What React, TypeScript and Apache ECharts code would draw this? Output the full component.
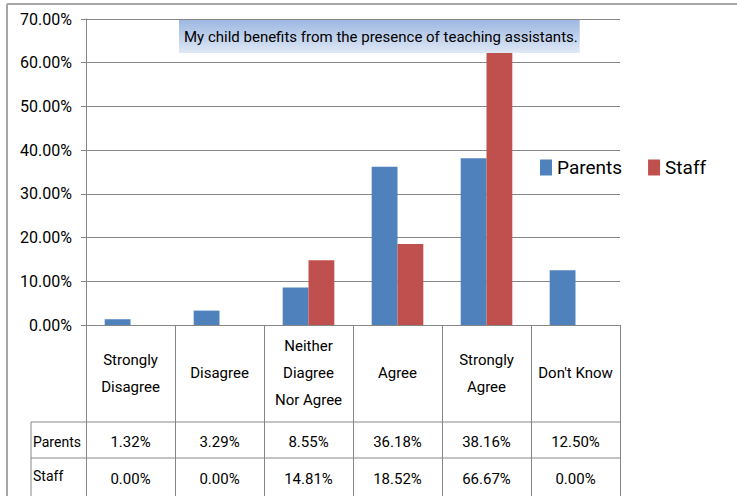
import React, { useEffect, useRef } from "react";
import * as echarts from "echarts";

const categories = [
  "Strongly\nDisagree",
  "Disagree",
  "Neither\nDiagree\nNor Agree",
  "Agree",
  "Strongly\nAgree",
  "Don't Know",
];
const seriesNames = ["Parents", "Staff"];
const parents = [1.32, 3.29, 8.55, 36.18, 38.16, 12.5];
const staff = [0, 0, 14.81, 18.52, 66.67, 0];
const titleText = "My child benefits from the presence of teaching assistants.";
const yMin = 0;
const yMax = 70;
const yInterval = 10;

const FONT = "Roboto, 'Liberation Sans', sans-serif";
const GRID = "#868686";
const fmt = (v: number) => v.toFixed(2) + "%";

export default function App() {
  const ref = useRef<HTMLDivElement>(null);
  useEffect(() => {
    if (!ref.current) return;
    const chart = echarts.init(ref.current, undefined, { renderer: "svg" });
    const gridLeft = 86, gridRight = 620, gridTop = 19, gridBottom = 325;
    const row1 = 422, row2 = 458, tableLeft = 31, H = 496;
    chart.setOption({
      animation: false,
      backgroundColor: "#ffffff",
      textStyle: { fontFamily: FONT },
      title: {
        text: titleText,
        left: 179,
        top: 20,
        padding: [8, 2, 8, 5],
        backgroundColor: new echarts.graphic.LinearGradient(0, 0, 0, 1, [
          { offset: 0, color: "#9db8e2" },
          { offset: 1, color: "#dfe8f5" },
        ]),
        textStyle: { fontFamily: FONT, fontSize: 15, fontWeight: "normal", color: "#000", lineHeight: 17 },
      },
      legend: {
        data: seriesNames,
        left: 535,
        top: 153,
        itemWidth: 12,
        itemHeight: 16,
        itemGap: 26,
        icon: "rect",
        textStyle: { fontFamily: FONT, fontSize: 19, color: "#000" },
      },
      grid: { left: gridLeft, right: 737 - gridRight, top: gridTop, bottom: H - gridBottom, containLabel: false },
      xAxis: [
        {
          type: "category",
          data: categories,
          axisLine: { lineStyle: { color: GRID } },
          axisTick: { show: true, length: H - gridBottom, lineStyle: { color: GRID } },
          axisLabel: {
            margin: 48,
            verticalAlign: "middle",
            lineHeight: 27,
            fontSize: 15,
            color: "#000",
            fontFamily: FONT,
            interval: 0,
          },
        },
        {
          type: "category",
          data: parents.map(fmt),
          position: "bottom",
          offset: 117,
          axisLine: { show: false, onZero: false },
          axisTick: { show: false },
          axisLabel: { margin: 0, verticalAlign: "middle", fontSize: 15, color: "#000", fontFamily: FONT, interval: 0 },
        },
        {
          type: "category",
          data: staff.map(fmt),
          position: "bottom",
          offset: 154,
          axisLine: { show: false, onZero: false },
          axisTick: { show: false },
          axisLabel: { margin: 0, verticalAlign: "middle", fontSize: 15, color: "#000", fontFamily: FONT, interval: 0 },
        },
      ],
      yAxis: {
        type: "value",
        min: yMin,
        max: yMax,
        interval: yInterval,
        axisLine: { show: true, lineStyle: { color: GRID } },
        axisTick: { show: true, length: 5, lineStyle: { color: GRID } },
        splitLine: { lineStyle: { color: GRID } },
        axisLabel: { margin: 14, fontSize: 16, color: "#000", fontFamily: FONT, formatter: (v: number) => fmt(v) },
      },
      series: [
        {
          name: seriesNames[0],
          type: "bar",
          data: parents,
          barGap: "0%",
          barCategoryGap: "42%",
          itemStyle: { color: "#4f81bd" },
        },
        {
          name: seriesNames[1],
          type: "bar",
          data: staff,
          barGap: "0%",
          barCategoryGap: "42%",
          itemStyle: { color: "#c0504d" },
        },
      ],
      graphic: [
        { type: "line", shape: { x1: 7, y1: 4, x2: 737, y2: 4 }, style: { stroke: "#a6a6a6", lineWidth: 2 } },
        { type: "line", shape: { x1: 7, y1: 4, x2: 7, y2: H }, style: { stroke: "#a6a6a6", lineWidth: 2 } },
        { type: "line", shape: { x1: tableLeft, y1: row1, x2: gridRight, y2: row1 }, style: { stroke: GRID, lineWidth: 1 } },
        { type: "line", shape: { x1: tableLeft, y1: row2, x2: gridRight, y2: row2 }, style: { stroke: GRID, lineWidth: 1 } },
        { type: "line", shape: { x1: tableLeft, y1: row1, x2: tableLeft, y2: H }, style: { stroke: GRID, lineWidth: 1 } },
        {
          type: "text",
          left: 33,
          top: 435,
          style: { text: seriesNames[0], fill: "#000", font: `14px ${FONT}` },
        },
        {
          type: "text",
          left: 33,
          top: 469,
          style: { text: seriesNames[1], fill: "#000", font: `14px ${FONT}` },
        },
      ],
    });
    return () => chart.dispose();
  }, []);
  return <div ref={ref} style={{ position: "fixed", left: 0, top: 0, width: 737, height: 496 }} />;
}
